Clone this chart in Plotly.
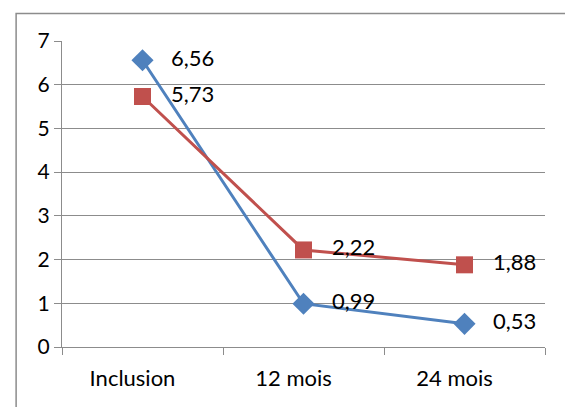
import plotly.graph_objects as go

categories = ["Inclusion", "12 mois", "24 mois"]
serie_bleue = [6.56, 0.99, 0.53]
serie_rouge = [5.73, 2.22, 1.88]
labels_bleue = ["6,56", "0,99", "0,53"]
labels_rouge = ["5,73", "2,22", "1,88"]

pad = "\u00a0\u00a0\u00a0"
fig = go.Figure()
fig.add_trace(go.Scatter(
    x=categories, y=serie_bleue, mode="lines+markers+text",
    line=dict(color="#4F81BD", width=3),
    marker=dict(symbol="diamond", size=17, color="#4F81BD"),
    text=[pad + t for t in labels_bleue], textposition="middle right",
    textfont=dict(family="Lato", size=22, color="black"),
    cliponaxis=False, showlegend=False))
fig.add_trace(go.Scatter(
    x=categories, y=serie_rouge, mode="lines+markers+text",
    line=dict(color="#C0504D", width=3),
    marker=dict(symbol="square", size=17, color="#C0504D"),
    text=[pad + t for t in labels_rouge], textposition="middle right",
    textfont=dict(family="Lato", size=22, color="black"),
    cliponaxis=False, showlegend=False))

fig.update_layout(
    width=565, height=407,
    margin=dict(l=62, r=20, t=41, b=60),
    plot_bgcolor="white", paper_bgcolor="white",
    font=dict(family="Lato", size=22, color="black"),
    xaxis=dict(type="category", range=[-0.5, 2.5], tickson="boundaries", ticks="outside", ticklen=7,
               tickcolor="#8c8c8c", showline=True, linecolor="#8c8c8c", linewidth=1,
               showgrid=False, tickfont=dict(size=22), ticklabelstandoff=12, ticklabelshift=-10),
    yaxis=dict(range=[0, 7], dtick=1, ticks="outside", ticklen=7, tickcolor="#8c8c8c",
               showline=True, linecolor="#8c8c8c", linewidth=1, showgrid=True,
               gridcolor="#8c8c8c", gridwidth=1, zeroline=False, tickfont=dict(size=21)),
    shapes=[dict(type="rect", xref="paper", yref="paper", x0=-0.095, x1=1.1, y0=-0.3, y1=1.09,
                 line=dict(color="#8c8c8c", width=1.5), fillcolor="rgba(0,0,0,0)", layer="below")],
)
fig.write_html("out.html", config={"displayModeBar": False},
               post_script="document.body.style.margin='0';")
